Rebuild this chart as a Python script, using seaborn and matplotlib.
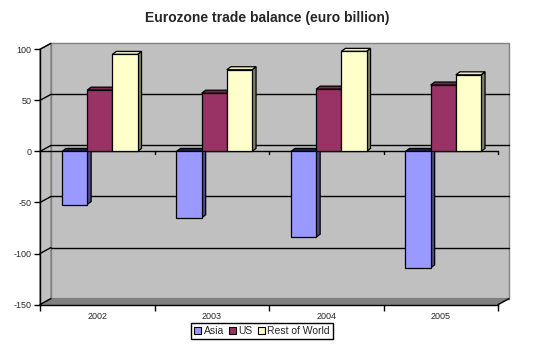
import matplotlib
matplotlib.use('Agg')
import numpy as np
import pandas as pd
import seaborn as sns
import matplotlib.pyplot as plt
from matplotlib.patches import Polygon, Patch
from matplotlib.lines import Line2D
from matplotlib.transforms import IdentityTransform

years = ['2002', '2003', '2004', '2005']
series = ['Asia', 'US', 'Rest of World']
asia = [-52, -65, -84, -114]
us = [60, 57, 61, 65]
rest = [95, 80, 98, 75]
yticks = [-150, -100, -50, 0, 50, 100]
title = 'Eurozone trade balance (euro billion)'

colors = {'Asia': '#9999FF', 'US': '#993366', 'Rest of World': '#FFFFCC'}
side_colors = {'Asia': '#4B4B80', 'US': '#4C1933', 'Rest of World': '#808066'}
top_colors = {'Asia': '#222244', 'US': '#7A2952', 'Rest of World': '#EEEEBB'}

df = pd.DataFrame({
    'year': years * 3,
    'series': ['Asia'] * 4 + ['US'] * 4 + ['Rest of World'] * 4,
    'value': asia + us + rest,
})

sns.set_style('white')
plt.rcParams['font.family'] = ['Liberation Sans', 'DejaVu Sans']

W, H = 535, 352
fig = plt.figure(figsize=(W / 100, H / 100), dpi=100)
fig.patch.set_facecolor('white')
ax_left, ax_right, ax_top, ax_bot = 40, 498, 49.3, 304.6
ax = fig.add_axes([ax_left / W, 1 - ax_bot / H, (ax_right - ax_left) / W, (ax_bot - ax_top) / H])
ax.set_facecolor('none')

sns.barplot(data=df, x='year', y='value', hue='series', hue_order=series,
            palette=colors, width=0.66, edgecolor='black', linewidth=0.9,
            ax=ax, legend=False, saturation=1)
ax.set_ylim(-150, 100)
ax.set_xlim(-0.5, 3.5)
ax.set_xlabel('')
ax.set_ylabel('')

DX, DY = 11, 6      # back wall offset (px)
dx, dy = 4, 3       # bar depth (px)
ident = IdentityTransform()

def px(x, y):
    return ax.transData.transform((x, y))

x0, y0 = px(-0.5, -150)
x1, y1 = px(3.5, 100)
shift = 2.5 * 4.0 / (x1 - x0)   # small depth shift of bars (data units)

# back wall, side wall, floor
ax.add_patch(Polygon([(x0 + DX, y0 + DY), (x1 + DX, y0 + DY), (x1 + DX, y1 + DY), (x0 + DX, y1 + DY)],
                     closed=True, facecolor='#C0C0C0', edgecolor='#808080', lw=1,
                     transform=ident, clip_on=False, zorder=0.5))
ax.add_patch(Polygon([(x0, y0), (x0 + DX, y0 + DY), (x0 + DX, y1 + DY), (x0, y1)],
                     closed=True, facecolor='#C0C0C0', edgecolor='#808080', lw=1,
                     transform=ident, clip_on=False, zorder=0.5))
ax.add_patch(Polygon([(x0, y0), (x1, y0), (x1 + DX, y0 + DY), (x0 + DX, y0 + DY)],
                     closed=True, facecolor='#808080', edgecolor='#808080', lw=1,
                     transform=ident, clip_on=False, zorder=0.6))

for v in yticks:
    _, yv = px(0, v)
    if -150 < v < 100:
        ax.add_line(Line2D([x0 + DX, x1 + DX], [yv + DY, yv + DY], color='black', lw=1,
                           transform=ident, clip_on=False, zorder=0.8))
    ax.add_line(Line2D([x0, x0 + DX], [yv, yv + DY], color='black', lw=1,
                       transform=ident, clip_on=False, zorder=0.8))

# front zero line with category ticks
_, yz = px(0, 0)
ax.add_line(Line2D([x0, x1], [yz, yz], color='black', lw=1, transform=ident, clip_on=False, zorder=1))
for b in [0.5, 1.5, 2.5, 3.5]:
    xb, _ = px(b, 0)
    ax.add_line(Line2D([xb, xb], [yz, yz - 3], color='black', lw=1, transform=ident, clip_on=False, zorder=1))
ax.add_line(Line2D([x1, x1 + DX], [y0, y0 + DY], color='black', lw=1, transform=ident, clip_on=False, zorder=1))

# 3D bar faces
bars = [p for p in ax.patches if hasattr(p, 'get_width') and p.get_width() < 1 and p.get_zorder() < 5][-12:]
for i, p in enumerate(bars):
    s = series[i // 4]
    k = i // 4
    p.set_x(p.get_x() + shift)
    bx, bw = p.get_x(), p.get_width()
    by, bh = p.get_y(), p.get_height()
    ylo, yhi = min(by, by + bh), max(by, by + bh)
    xl, yb = px(bx, ylo)
    xr, yt = px(bx + bw, yhi)
    p.set_zorder(4 + 2 * k)
    ax.add_patch(Polygon([(xr, yb), (xr + dx, yb + dy), (xr + dx, yt + dy), (xr, yt)], closed=True,
                         facecolor=side_colors[s], edgecolor='black', lw=0.9,
                         transform=ident, clip_on=False, zorder=3 + 2 * k))
    ax.add_patch(Polygon([(xl, yt), (xr, yt), (xr + dx, yt + dy), (xl + dx, yt + dy)], closed=True,
                         facecolor=top_colors[s], edgecolor='black', lw=0.9,
                         transform=ident, clip_on=False, zorder=3 + 2 * k))

# axes styling
for sp in ['top', 'right']:
    ax.spines[sp].set_visible(False)
for sp in ['left', 'bottom']:
    ax.spines[sp].set_color('black')
    ax.spines[sp].set_linewidth(1)
    ax.spines[sp].set_zorder(1)
ax.set_yticks(yticks)
ax.set_yticklabels([str(v) for v in yticks])
ax.tick_params(axis='y', direction='out', length=4, width=1, color='black', labelsize=6.5, pad=2, left=True)
ax.set_xticks([-0.5, 0.5, 1.5, 2.5, 3.5])
ax.set_xticklabels([''] * 5)
ax.set_xticks([0, 1, 2, 3], minor=True)
ax.set_xticklabels(years, minor=True)
ax.tick_params(axis='x', which='major', direction='out', length=4, width=1, color='black', bottom=True)
ax.tick_params(axis='x', which='minor', length=0, labelsize=6.5, pad=5)

handles = [Patch(facecolor=colors[s], edgecolor='black', lw=0.8) for s in series]
leg = fig.legend(handles, series, loc='center', bbox_to_anchor=(262 / W, 1 - 331 / H), ncol=3,
                 frameon=True, fancybox=False, edgecolor='black', framealpha=1, fontsize=7.5,
                 handlelength=0.7, handleheight=0.7, columnspacing=0.5, handletextpad=0.2,
                 borderpad=0.3, borderaxespad=0)
leg.get_frame().set_linewidth(1)

fig.text(0.5, 1 - 18 / H, title, ha='center', va='center', fontsize=10, fontweight='bold')

fig.savefig('out.png', dpi=100)
